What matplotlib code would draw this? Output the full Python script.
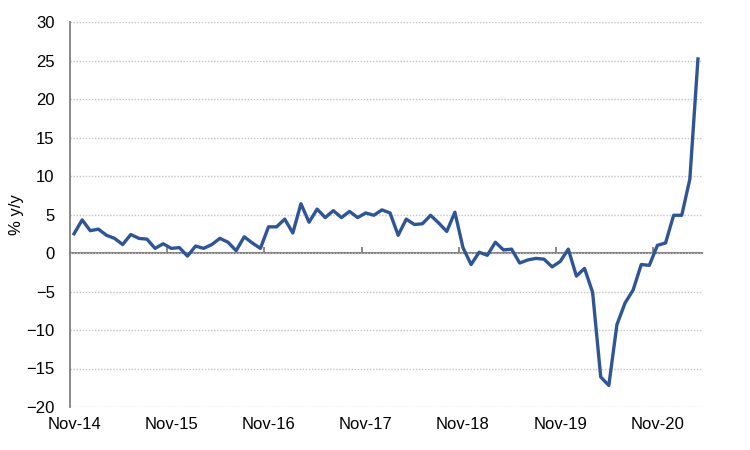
import matplotlib
matplotlib.use('Agg')
import matplotlib.pyplot as plt
import numpy as np

# variación interanual mensual, de Nov-14 a Abr-21 (% y/y)
valores = [2.5, 4.3, 2.9, 3.1, 2.3, 1.9, 1.1, 2.4, 1.9, 1.8, 0.6, 1.2,
           0.6, 0.7, -0.4, 0.9, 0.6, 1.1, 1.9, 1.4, 0.3, 2.1, 1.3, 0.6,
           3.4, 3.4, 4.4, 2.6, 6.4, 4.0, 5.7, 4.6, 5.5, 4.6, 5.4, 4.6,
           5.2, 4.9, 5.6, 5.2, 2.3, 4.4, 3.7, 3.8, 4.9, 3.9, 2.8, 5.3,
           0.7, -1.5, 0.1, -0.3, 1.4, 0.4, 0.5, -1.3, -0.9, -0.7, -0.8, -1.8,
           -1.1, 0.5, -3.0, -2.0, -5.1, -16.1, -17.2, -9.3, -6.5, -4.8, -1.5, -1.6,
           1.0, 1.3, 4.9, 4.9, 9.6, 25.2]

# etiquetas del eje x (una cada 12 meses)
etiquetas = ['Nov-14', 'Nov-15', 'Nov-16', 'Nov-17', 'Nov-18', 'Nov-19', 'Nov-20']
pos_etiquetas = [0, 12, 24, 36, 48, 60, 72]

plt.rcParams['font.family'] = ['Liberation Sans', 'DejaVu Sans']
plt.rcParams['font.size'] = 12

gris = '#808080'
azul = '#2F5597'

fig = plt.figure(figsize=(7.5, 4.5), dpi=100)
ax = fig.add_axes([70 / 750, 1 - 407 / 450, 632 / 750, 385 / 450])

x = np.arange(len(valores))
ax.plot(x, valores, color=azul, linewidth=2.4, solid_joinstyle='round', zorder=3)

# ejes
ax.set_xlim(-0.5, len(valores) - 0.5)
ax.set_ylim(-20, 30)
ax.set_yticks(range(-20, 31, 5))
# rejilla punteada fina
ax.yaxis.grid(True, color='#C4C4C4', linestyle=(0, (1, 1.2)), linewidth=1)
ax.set_axisbelow(True)

for lado in ['top', 'right', 'bottom']:
    ax.spines[lado].set_visible(False)
ax.spines['left'].set_color(gris)
ax.spines['left'].set_linewidth(1.3)

ax.tick_params(axis='y', length=0, pad=11, labelcolor='black')
ax.set_xticks(pos_etiquetas)
ax.set_xticklabels(etiquetas)
ax.tick_params(axis='x', length=0, pad=7)

# linea del cero con marcas de año (entre categorías)
eje0 = ax.secondary_xaxis(0.4)
eje0.spines['bottom'].set_color(gris)
eje0.spines['bottom'].set_linewidth(1.5)
eje0.set_xticks([p - 0.5 for p in pos_etiquetas[1:]])
eje0.set_xticklabels([])
eje0.tick_params(axis='x', direction='in', length=4, width=1.3, color=gris)

fig.text(16 / 750, 1 - 215 / 450, '% y/y', rotation=90, ha='center', va='center')

plt.savefig('out.png', dpi=100)
